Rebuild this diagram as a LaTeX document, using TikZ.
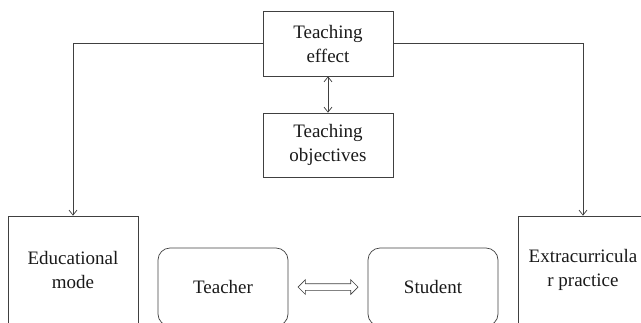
\documentclass[tikz,border=0pt]{standalone}
\usepackage{fontspec}
\setmainfont{Liberation Serif}
\usetikzlibrary{shapes.arrows,arrows.meta}
\begin{document}
\begin{tikzpicture}[x=1pt,y=-1pt]
\tikzstyle{lien}=[->,>={Straight Barb[length=5pt,width=8pt]},line width=0.7pt,draw=black!75]
\tikzset{bloc/.style={draw=black!75,line width=0.7pt,text=black!90,align=center,inner sep=0pt,
minimum width=130pt,minimum height=#1,font=\fontsize{19}{24}\selectfont},
bloc/.default={65pt}}
\useasboundingbox (0,0) rectangle (641,322);
\clip (0,0) rectangle (641,322);
\node[bloc] (E) at (328,43.5) {Teaching\\effect};
\node[bloc=64pt] (O) at (328,145) {Teaching\\objectives};
\node[bloc=108pt] (M) at (73,270) {Educational\\mode};
\node[bloc=108pt] (P) at (583,270) {Extracurricula\\r practice};
\node[bloc=78pt,rounded corners=12pt] (T) at (223,287) {Teacher};
\node[bloc=78pt,rounded corners=12pt] (S) at (433,287) {Student};

\draw[lien] (E.west) -| (M.north);
\draw[lien] (E.east) -| (P.north);
\draw[lien,<->] (E) -- (O);
\path (T) -- (S) node[midway,double arrow,draw=black!75,line width=0.7pt,inner xsep=0pt,
inner ysep=3pt,minimum height=60pt,double arrow head extend=4pt] (D) {};

\end{tikzpicture}
\end{document}
